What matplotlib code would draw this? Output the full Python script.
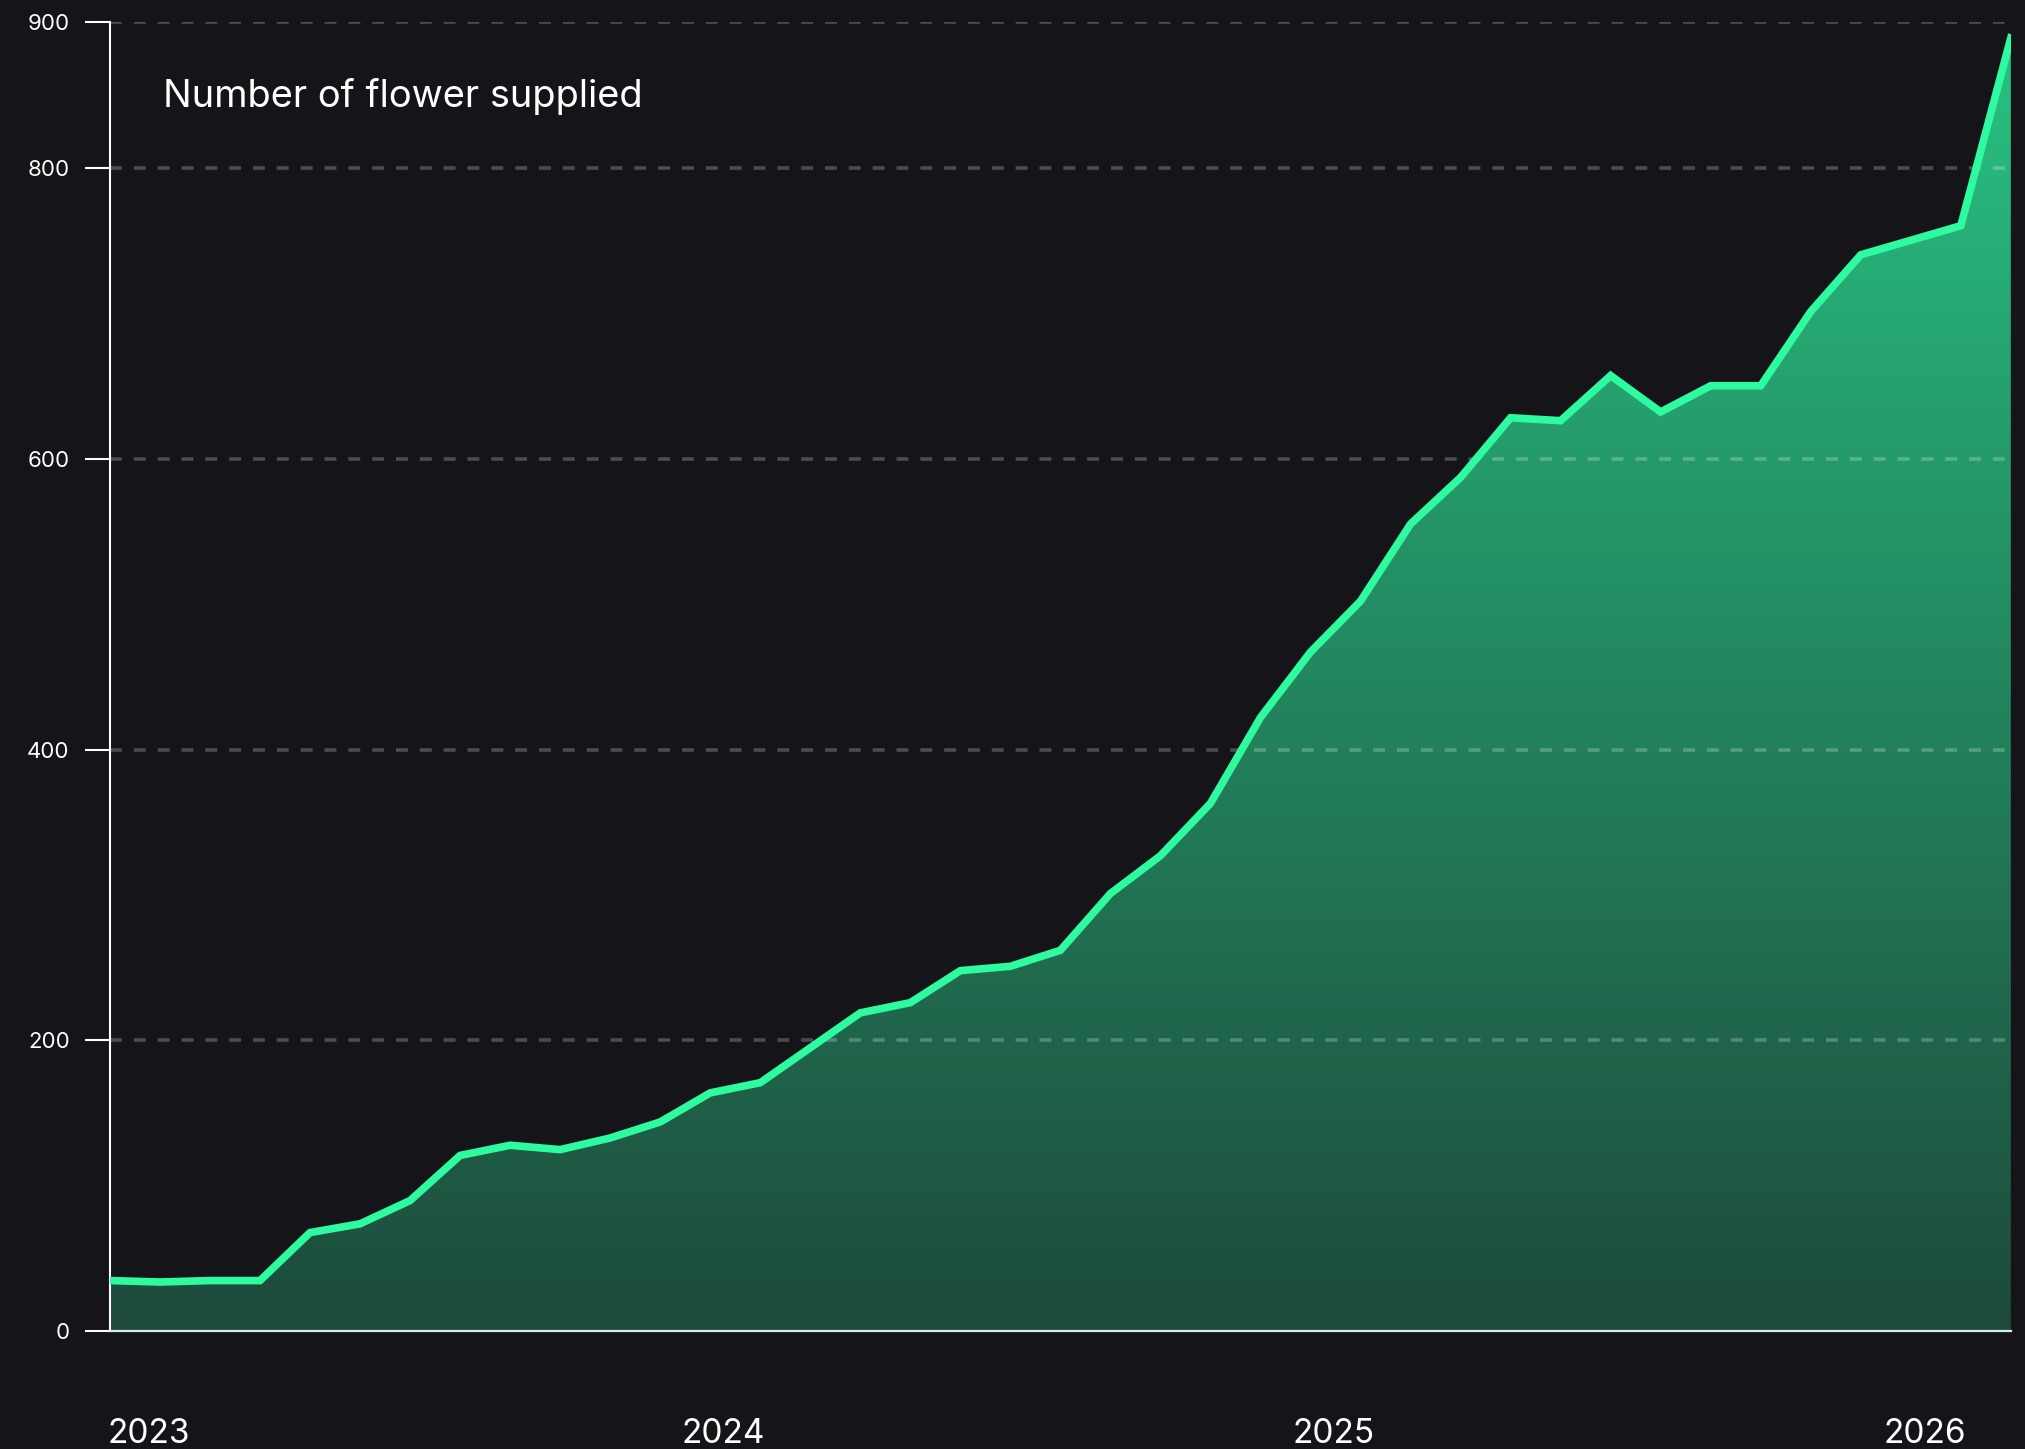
import numpy as np
import matplotlib
matplotlib.use("Agg")
import matplotlib.pyplot as plt
from matplotlib.colors import LinearSegmentedColormap

# monthly supply counts, Jan 2023 -> Mar 2026
flowers = [35, 34, 35, 35, 68, 74, 90, 121, 128, 125, 133, 144,
           164, 171, 195, 219, 226, 248, 251, 262, 301, 327, 363, 422,
           467, 502, 555, 587, 628, 626, 657, 632, 650, 650, 701, 740,
           750, 760, 889]
year_labels = ["2023", "2024", "2025", "2026"]
year_pos = [0.77, 12.25, 24.47, 36.29]
y_ticks = [0, 200, 400, 600, 800, 900]

bg = "#141419"
plt.rcParams["font.family"] = ["Inter", "DejaVu Sans"]

fig = plt.figure(figsize=(20.25, 14.49), dpi=100, facecolor=bg)
ax = fig.add_axes([0.0543, 0.0811, 0.9387, 0.9037])
ax.set_facecolor(bg)

x = np.arange(len(flowers))
y = np.array(flowers)

# gradient fill under the line
poly = ax.fill_between(x, 0, y, color="none", lw=0)
cmap = LinearSegmentedColormap.from_list("g", ["#1d4a3b", "#29c383"])
grad = np.linspace(0, 1, 256).reshape(-1, 1)
im = ax.imshow(grad, cmap=cmap, origin="lower", aspect="auto",
               extent=[0, len(flowers) - 1, 0, 900], zorder=1)
path = poly.get_paths()[0]
im.set_clip_path(path, transform=ax.transData)

ax.plot(x, y, color="#2efa9f", lw=5.5, zorder=3, solid_joinstyle="miter")

ax.set_xlim(0, len(flowers) - 1)
ax.set_ylim(0, 900)

for t in y_ticks[1:]:
    ax.axhline(t, color="white", alpha=0.24, lw=2.6, ls=(0, (3.3, 3.3)), zorder=2)

ax.set_yticks(y_ticks)
ax.set_yticklabels([str(t) for t in y_ticks])
ax.tick_params(axis="y", colors="white", length=18, width=1.5, pad=11, labelsize=16)
ax.set_xticks(year_pos)
ax.set_xticklabels(year_labels)
ax.tick_params(axis="x", colors="white", length=0, pad=62, labelsize=24)

for s in ["top", "right"]:
    ax.spines[s].set_visible(False)
ax.spines["left"].set_color("white")
ax.spines["left"].set_linewidth(1.5)
ax.spines["bottom"].set_color("#d8efe4")
ax.spines["bottom"].set_linewidth(1.6)
ax.spines["bottom"].set_zorder(4)

fig.text(163 / 2025, 1 - 97 / 1449, "Number of flower supplied",
         color="white", fontsize=27.4, va="center", ha="left")

fig.savefig("out.png", dpi=100, facecolor=bg)
